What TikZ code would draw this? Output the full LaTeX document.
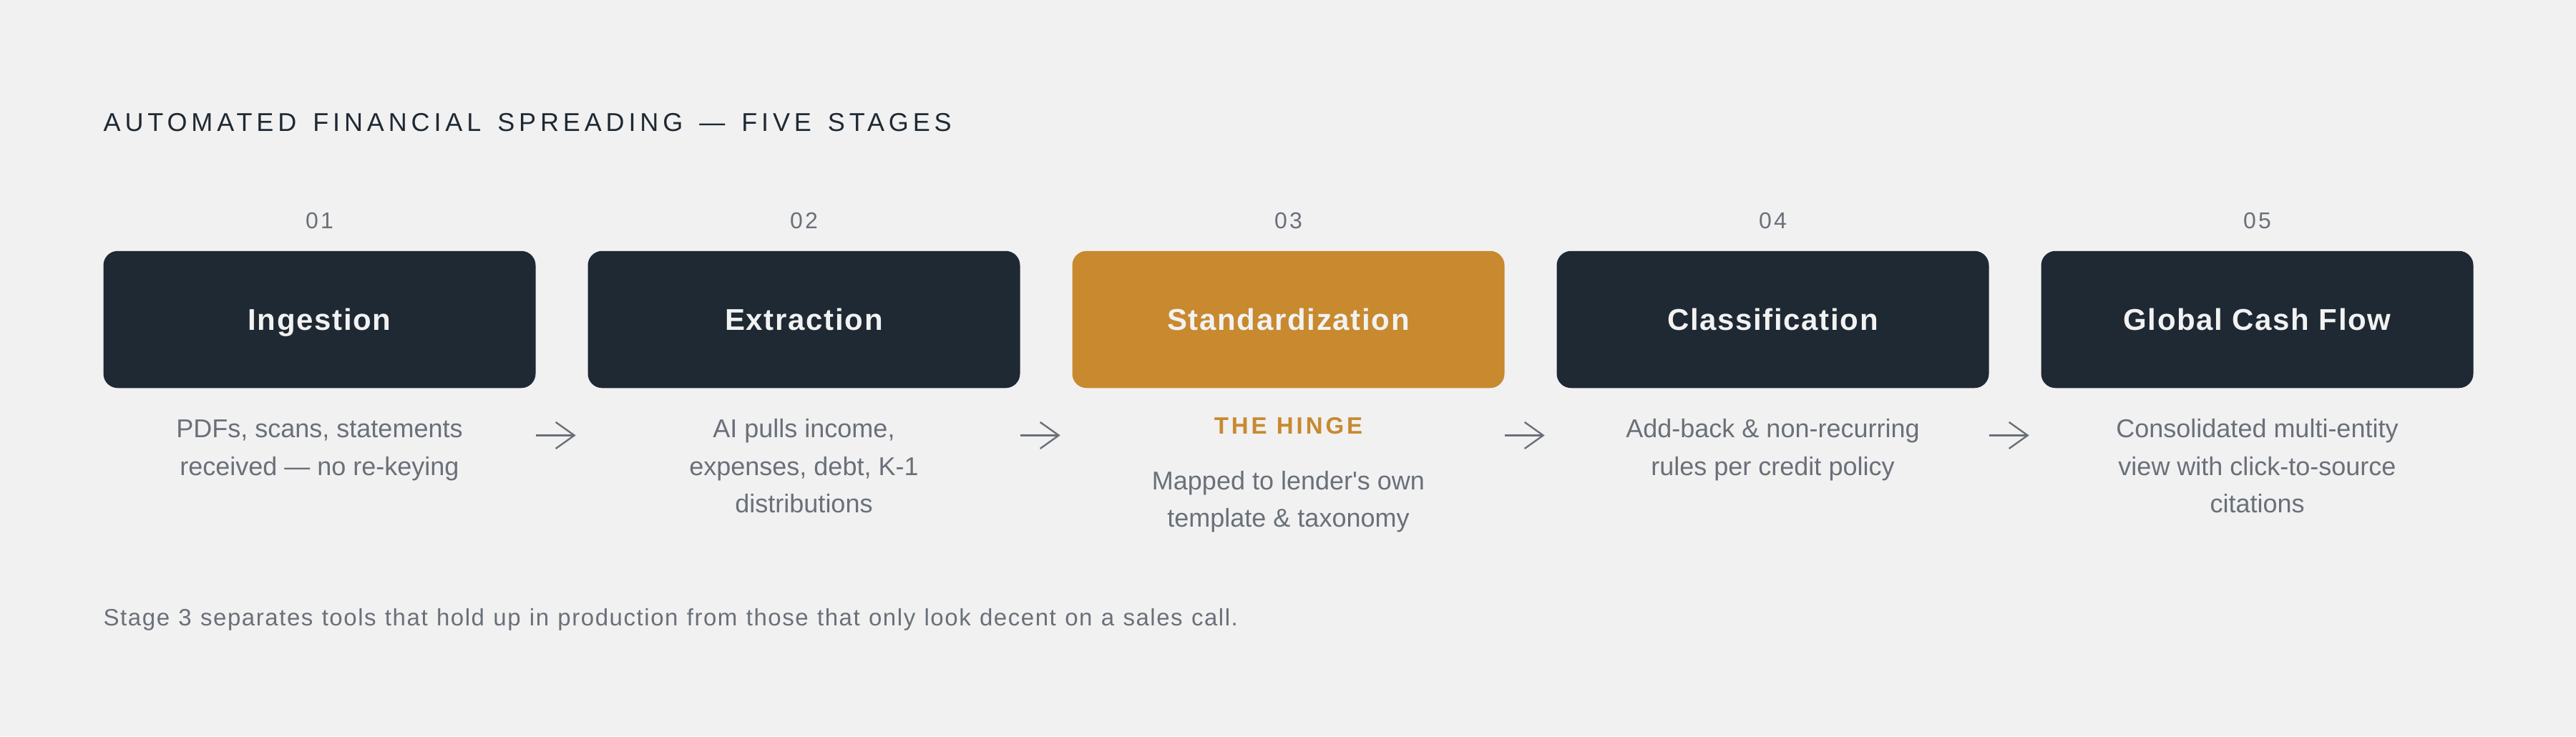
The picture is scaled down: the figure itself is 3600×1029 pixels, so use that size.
\documentclass[tikz,border=0pt]{standalone}
\usepackage{fontspec}
\setmainfont{Liberation Sans}
\newfontfamily\titlefont[LetterSpace=16.3,WordSpace=1.45]{Liberation Sans}
\newfontfamily\numfont[LetterSpace=10]{Liberation Sans}
\newfontfamily\labelfont[LetterSpace=4]{Liberation Sans}
\newfontfamily\hingefont[LetterSpace=12]{Liberation Sans}
\newfontfamily\descfont{Liberation Sans}
\newfontfamily\footfont[LetterSpace=4.7,WordSpace=1.15]{Liberation Sans}
\usetikzlibrary{arrows.meta}
\definecolor{bgc}{HTML}{F1F1F1}
\definecolor{darkc}{HTML}{1F2933}
\definecolor{orangec}{HTML}{C8892F}
\definecolor{grayc}{HTML}{6A7079}
\definecolor{boxtextc}{HTML}{F2F2F2}
\begin{document}
\begin{tikzpicture}[x=1pt,y=-1pt,
  stagebox/.style={rectangle, rounded corners=20pt, minimum width=604pt, minimum height=191.5pt,
    inner sep=0pt, text height=30pt, text depth=0pt, text=boxtextc,
    font=\labelfont\bfseries\fontsize{42}{50}\selectfont},
  darkbox/.style={stagebox, fill=darkc},
  hingebox/.style={stagebox, fill=orangec},
  numlabel/.style={anchor=base, inner sep=0pt, text=grayc, font=\numfont\fontsize{32}{38}\selectfont},
  desc/.style={anchor=base, inner sep=0pt, text=grayc, font=\descfont\fontsize{36}{44}\selectfont},
  hinge/.style={anchor=base, inner sep=0pt, text=orangec, font=\hingefont\bfseries\fontsize{33}{40}\selectfont},
  titletext/.style={anchor=base west, inner sep=0pt, text=darkc, font=\titlefont\fontsize{36}{44}\selectfont},
  foot/.style={anchor=base west, inner sep=0pt, text=grayc, font=\footfont\fontsize{33}{40}\selectfont},
  flow/.style={draw=grayc, line width=2.4pt, -{Straight Barb[length=26pt,width=37pt]}}
]
\fill[bgc] (0,0) rectangle (3600,1029);
\useasboundingbox (0,0) rectangle (3600,1029);

\node[titletext] (title) at (144.5,183) {AUTOMATED FINANCIAL SPREADING — FIVE STAGES};

\node[numlabel] (n1) at (446.5,319) {01};
\node[numlabel] (n2) at (1123.5,319) {02};
\node[numlabel] (n3) at (1800.5,319) {03};
\node[numlabel] (n4) at (2477.5,319) {04};
\node[numlabel] (n5) at (3154.5,319) {05};

\node[darkbox] (b1) at (446.5,446.5) {Ingestion};
\node[darkbox] (b2) at (1123.5,446.5) {Extraction};
\node[hingebox] (b3) at (1800.5,446.5) {Standardization};
\node[darkbox] (b4) at (2477.5,446.5) {Classification};
\node[darkbox] (b5) at (3154.5,446.5) {Global Cash Flow};

\node[desc] (d1a) at (446.5,611.5) {PDFs, scans, statements};
\node[desc] (d1b) at (446.5,664) {received — no re-keying};

\node[desc] (d2a) at (1123.5,611.5) {AI pulls income,};
\node[desc] (d2b) at (1123.5,664) {expenses, debt, K-1};
\node[desc] (d2c) at (1123.5,716.5) {distributions};

\node[hinge] (h3) at (1800.5,606.7) {THE HINGE};
\node[desc] (d3a) at (1800.5,684) {Mapped to lender's own};
\node[desc] (d3b) at (1800.5,736.5) {template \& taxonomy};

\node[desc] (d4a) at (2477.5,611.5) {Add-back \& non-recurring};
\node[desc] (d4b) at (2477.5,664) {rules per credit policy};

\node[desc] (d5a) at (3154.5,611.5) {Consolidated multi-entity};
\node[desc] (d5b) at (3154.5,664) {view with click-to-source};
\node[desc] (d5c) at (3154.5,716.5) {citations};

\foreach \i in {1,2,3,4}{
  \coordinate (s\i) at ([yshift=-66pt]b\i.south east);
  \coordinate (e\i) at ([xshift=56pt]s\i);
  \draw[flow] (s\i) -- (e\i);
}

\node[foot] (footer) at (144.5,874) {Stage 3 separates tools that hold up in production from those that only look decent on a sales call.};
\end{tikzpicture}
\end{document}
